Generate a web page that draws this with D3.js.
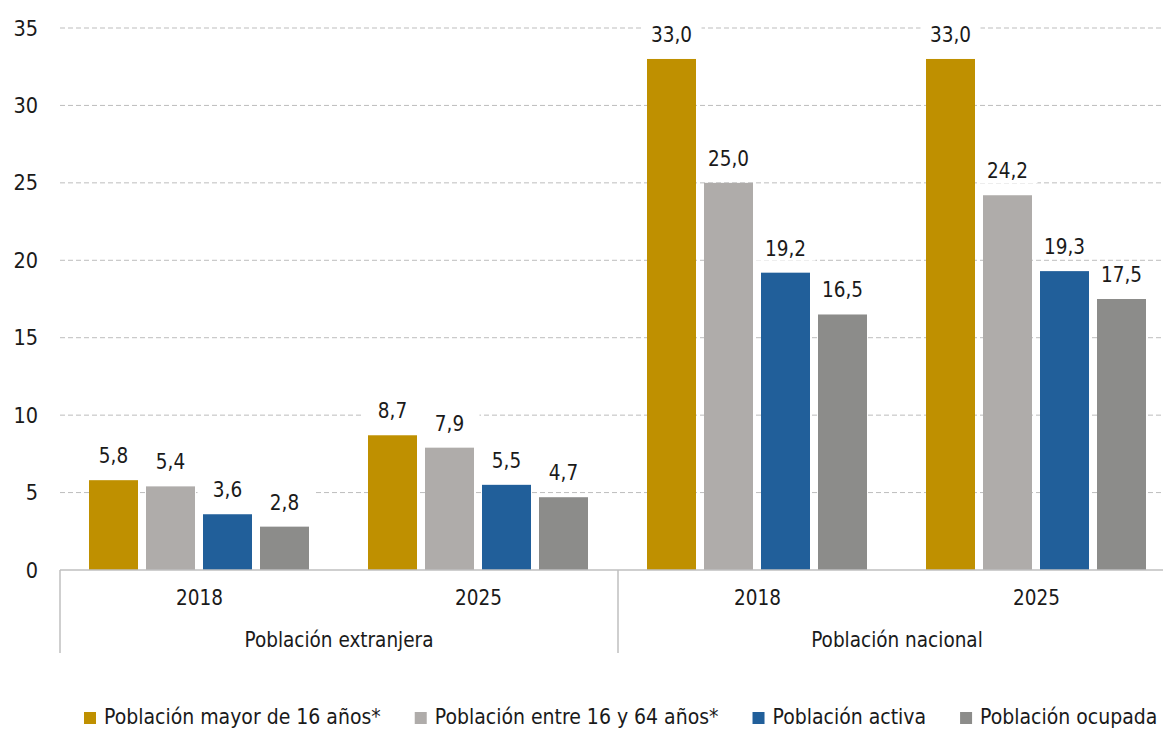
<!DOCTYPE html>
<html>
<head>
<meta charset="utf-8">
<script src="https://cdn.jsdelivr.net/npm/d3@7"></script>
<style>
  html, body { margin: 0; padding: 0; background: #fff; }
  svg { display: block; font-family: "DejaVu Sans Condensed", "DejaVu Sans", sans-serif; }
</style>
</head>
<body>
<svg id="chart" width="1163" height="729"></svg>
<script>
// ---- data ----
const groups = ["Población extranjera", "Población nacional"];
const years = ["2018", "2025"];
const series = ["Población mayor de 16 años*", "Población entre 16 y 64 años*", "Población activa", "Población ocupada"];
const colors = ["#BF9000", "#AFACAA", "#215F9A", "#8C8C8A"];
const extranjera2018 = [5.8, 5.4, 3.6, 2.8];
const extranjera2025 = [8.7, 7.9, 5.5, 4.7];
const nacional2018 = [33.0, 25.0, 19.2, 16.5];
const nacional2025 = [33.0, 24.2, 19.3, 17.5];
const yTicks = [0, 5, 10, 15, 20, 25, 30, 35];

const cells = [
  { group: groups[0], year: years[0], values: extranjera2018 },
  { group: groups[0], year: years[1], values: extranjera2025 },
  { group: groups[1], year: years[0], values: nacional2018 },
  { group: groups[1], year: years[1], values: nacional2025 }
];
cells.forEach((c, i) => c.key = c.group + "|" + c.year);

// ---- layout ----
const svg = d3.select("#chart");
const mLeft = 60, mRight = 1176, mTop = 28, base = 570;
const FS = 20.5;

const y = d3.scaleLinear().domain([0, 35]).range([base, mTop]);
const x0 = d3.scaleBand().domain(cells.map(c => c.key)).range([mLeft, mRight]).padding(0);
const xg = d3.scaleBand().domain(groups).range([mLeft, mRight]).padding(0);
const x1 = d3.scaleBand().domain(series).range([29, 249]).paddingInner(8 / 57).paddingOuter(0);
const color = d3.scaleOrdinal().domain(series).range(colors);
const fmt = v => d3.format(".1f")(v).replace(".", ",");

// gridlines
svg.append("g").selectAll("line")
  .data(yTicks.filter(t => t > 0))
  .join("line")
  .attr("x1", mLeft).attr("x2", mRight)
  .attr("y1", d => y(d)).attr("y2", d => y(d))
  .attr("stroke", "#BDBDBD").attr("stroke-width", 1)
  .attr("stroke-dasharray", "5,3");

// y tick labels
svg.append("g").selectAll("text")
  .data(yTicks)
  .join("text")
  .attr("x", 38).attr("y", d => y(d) + 7.5)
  .attr("text-anchor", "end")
  .attr("font-size", FS + 1).attr("fill", "#1a1a1a")
  .text(d => d);

// bars
const cg = svg.append("g").selectAll("g")
  .data(cells)
  .join("g")
  .attr("transform", d => `translate(${x0(d.key)},0)`);

cg.selectAll("rect")
  .data(d => d.values.map((v, i) => ({ s: series[i], v })))
  .join("rect")
  .attr("x", d => x1(d.s))
  .attr("width", x1.bandwidth())
  .attr("y", d => y(d.v))
  .attr("height", d => base - y(d.v))
  .attr("fill", d => color(d.s));

// value labels with white background
const lab = cg.selectAll("g.lab")
  .data(d => d.values.map((v, i) => ({ s: series[i], v })))
  .join("g").attr("class", "lab");

lab.append("rect")
  .attr("x", d => x1(d.s) + x1.bandwidth() / 2 - 30)
  .attr("width", 60)
  .attr("y", d => y(d.v) - 36)
  .attr("height", 24)
  .attr("fill", "#fff");

lab.append("text")
  .attr("x", d => x1(d.s) + x1.bandwidth() / 2)
  .attr("y", d => y(d.v) - 17)
  .attr("text-anchor", "middle")
  .attr("font-size", FS).attr("fill", "#1a1a1a")
  .text(d => fmt(d.v));

// baseline
svg.append("line")
  .attr("x1", mLeft).attr("x2", mRight)
  .attr("y1", base).attr("y2", base)
  .attr("stroke", "#BFBFBF").attr("stroke-width", 1.5);

// group separators
const seps = [mLeft, xg(groups[1]), mRight];
svg.append("g").selectAll("line")
  .data(seps)
  .join("line")
  .attr("x1", d => d).attr("x2", d => d)
  .attr("y1", base).attr("y2", 653)
  .attr("stroke", "#BFBFBF").attr("stroke-width", 1.5);

// year labels
svg.append("g").selectAll("text")
  .data(cells)
  .join("text")
  .attr("x", d => x0(d.key) + x0.bandwidth() / 2)
  .attr("y", 605)
  .attr("text-anchor", "middle")
  .attr("font-size", FS).attr("fill", "#1a1a1a")
  .text(d => d.year);

// group labels
svg.append("g").selectAll("text")
  .data(groups)
  .join("text")
  .attr("x", d => xg(d) + xg.bandwidth() / 2)
  .attr("y", 647)
  .attr("text-anchor", "middle")
  .attr("font-size", FS).attr("fill", "#1a1a1a")
  .text(d => d);

// legend
const leg = svg.append("g");
let lx = 84;
series.forEach((s, i) => {
  const g = leg.append("g").attr("transform", `translate(${lx},0)`);
  g.append("rect").attr("x", 0).attr("y", 712).attr("width", 12).attr("height", 12).attr("fill", color(s));
  const t = g.append("text").attr("x", 20).attr("y", 724)
    .attr("font-size", 21).attr("fill", "#1a1a1a").text(s);
  const w = t.node().getComputedTextLength();
  lx += 20 + w + 34;
});
</script>
</body>
</html>
